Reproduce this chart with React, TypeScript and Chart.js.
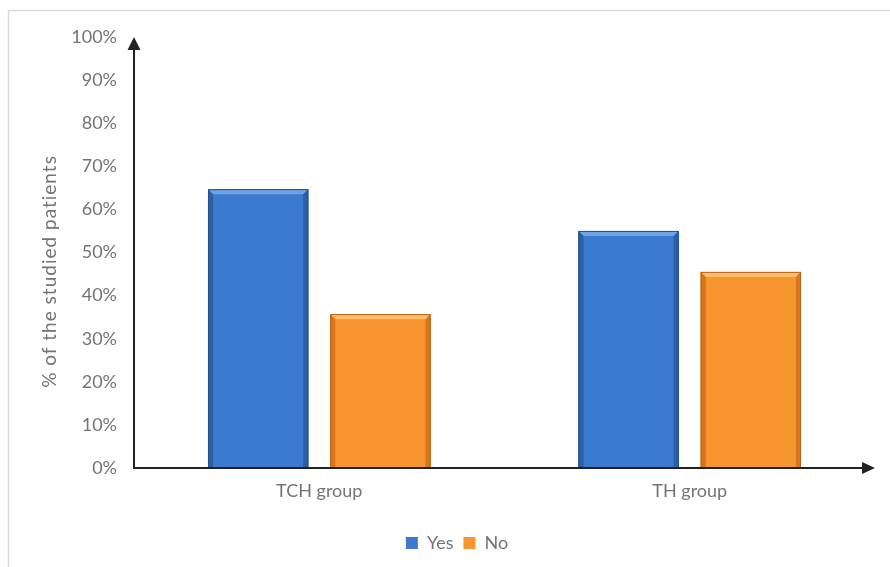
import React, { useEffect, useRef } from "react";
import { Chart, registerables } from "chart.js";

Chart.register(...registerables);

const categories = ["TCH group", "TH group"];
const yesValues = [64.7, 55.0];
const noValues = [35.7, 45.5];
const seriesNames = ["Yes", "No"];
const yTickValues = [0, 10, 20, 30, 40, 50, 60, 70, 80, 90, 100];
const yAxisTitle = "% of the studied patients";

const FONT = "Lato, 'Open Sans', sans-serif";
const TEXT = "#747474";
const AXIS = "#222222";

const palette = [
  { main: "#3a7bd0", edge: "#2c5fa6", light: "#6ea4e6", dark: "#244f8c" },
  { main: "#f7952f", edge: "#d8761e", light: "#fbbd6c", dark: "#b9621a" },
];

const decoPlugin = {
  id: "deco",
  beforeDraw(chart: any) {
    const ctx = chart.ctx;
    ctx.save();
    ctx.strokeStyle = "#d9d9d9";
    ctx.lineWidth = 1.5;
    ctx.beginPath();
    ctx.moveTo(8.5, chart.height);
    ctx.lineTo(8.5, 10.5);
    ctx.lineTo(chart.width, 10.5);
    ctx.stroke();
    ctx.restore();
  },
  afterDatasetsDraw(chart: any) {
    const ctx = chart.ctx;
    ctx.save();
    chart.data.datasets.forEach((ds: any, di: number) => {
      const meta = chart.getDatasetMeta(di);
      const col = palette[di];
      meta.data.forEach((bar: any) => {
        const { x, y, base, width } = bar.getProps(["x", "y", "base", "width"], true);
        const l = x - width / 2;
        const r = x + width / 2;
        const h = base - y;
        const g = ctx.createLinearGradient(l, 0, r, 0);
        g.addColorStop(0, col.edge);
        g.addColorStop(0.06, col.main);
        g.addColorStop(0.94, col.main);
        g.addColorStop(1, col.edge);
        ctx.fillStyle = g;
        ctx.fillRect(l, y, width, h);
        const b = 5;
        ctx.fillStyle = col.light;
        ctx.beginPath();
        ctx.moveTo(l, y);
        ctx.lineTo(r, y);
        ctx.lineTo(r - b, y + b);
        ctx.lineTo(l + b, y + b);
        ctx.closePath();
        ctx.fill();
        ctx.fillStyle = col.edge;
        ctx.beginPath();
        ctx.moveTo(l, y);
        ctx.lineTo(l + b, y + b);
        ctx.lineTo(l + b, base);
        ctx.lineTo(l, base);
        ctx.closePath();
        ctx.fill();
        ctx.beginPath();
        ctx.moveTo(r, y);
        ctx.lineTo(r - b, y + b);
        ctx.lineTo(r - b, base);
        ctx.lineTo(r, base);
        ctx.closePath();
        ctx.fill();
        ctx.strokeStyle = col.dark;
        ctx.lineWidth = 1;
        ctx.strokeRect(l + 0.5, y + 0.5, width - 1, h);
      });
    });

    const ca = chart.chartArea;
    const ys = chart.scales.y;
    const x0 = ca.left;
    const yb = ys.getPixelForValue(0);
    const yt = ys.getPixelForValue(100);
    ctx.strokeStyle = AXIS;
    ctx.fillStyle = AXIS;
    ctx.lineWidth = 2;
    ctx.beginPath();
    ctx.moveTo(x0, yb);
    ctx.lineTo(x0, yt + 10);
    ctx.stroke();
    ctx.beginPath();
    ctx.moveTo(x0, yt);
    ctx.lineTo(x0 - 6.5, yt + 13);
    ctx.lineTo(x0 + 6.5, yt + 13);
    ctx.closePath();
    ctx.fill();
    const xr = ca.right;
    ctx.beginPath();
    ctx.moveTo(x0 - 1, yb);
    ctx.lineTo(xr - 10, yb);
    ctx.stroke();
    ctx.beginPath();
    ctx.moveTo(xr, yb);
    ctx.lineTo(xr - 13, yb - 6);
    ctx.lineTo(xr - 13, yb + 6);
    ctx.closePath();
    ctx.fill();

    ctx.save();
    ctx.translate(50, (ca.top + ca.bottom) / 2 + 19);
    ctx.rotate(-Math.PI / 2);
    ctx.font = `19px ${FONT}`;
    (ctx as any).letterSpacing = "1px";
    ctx.fillStyle = TEXT;
    ctx.textAlign = "center";
    ctx.textBaseline = "middle";
    ctx.fillText(yAxisTitle, 0, 0);
    ctx.restore();
    ctx.restore();
  },
};

export default function App() {
  const ref = useRef<HTMLCanvasElement | null>(null);
  useEffect(() => {
    if (!ref.current) return;
    const chart = new Chart(ref.current, {
      type: "bar",
      data: {
        labels: categories,
        datasets: [
          {
            label: seriesNames[0],
            data: yesValues,
            backgroundColor: palette[0].main,
            borderColor: palette[0].dark,
            borderWidth: 0,
          },
          {
            label: seriesNames[1],
            data: noValues,
            backgroundColor: palette[1].main,
            borderColor: palette[1].dark,
            borderWidth: 0,
          },
        ],
      },
      options: {
        animation: false,
        responsive: true,
        maintainAspectRatio: false,
        layout: { padding: { left: 39, right: 15, top: 37, bottom: 5 } },
        datasets: { bar: { categoryPercentage: 0.66, barPercentage: 0.82 } },
        plugins: {
          tooltip: { enabled: false },
          legend: {
            position: "bottom",
            labels: {
              boxWidth: 12,
              boxHeight: 12,
              padding: 10,
              color: TEXT,
              font: { family: FONT, size: 18 },
            },
          },
        },
        scales: {
          x: {
            grid: { display: false, drawTicks: false },
            border: { display: false },
            ticks: { color: TEXT, font: { family: FONT, size: 18 }, padding: 12 },
            afterFit: (s: any) => {
              s.height = 56;
            },
          },
          y: {
            min: 0,
            max: 100,
            grid: { display: false, drawTicks: false },
            border: { display: false },
            afterBuildTicks: (s: any) => {
              s.ticks = yTickValues.map((v) => ({ value: v }));
            },
            ticks: {
              color: TEXT,
              font: { family: FONT, size: 18 },
              padding: 17,
              callback: (v: any) => `${v}%`,
            },
            afterFit: (s: any) => {
              s.width = 95;
            },
          },
        },
      },
      plugins: [decoPlugin],
    });
    return () => chart.destroy();
  }, []);
  return (
    <div style={{ position: "fixed", left: 0, top: 0, width: 890, height: 567, background: "#fff" }}>
      <canvas ref={ref} />
    </div>
  );
}
